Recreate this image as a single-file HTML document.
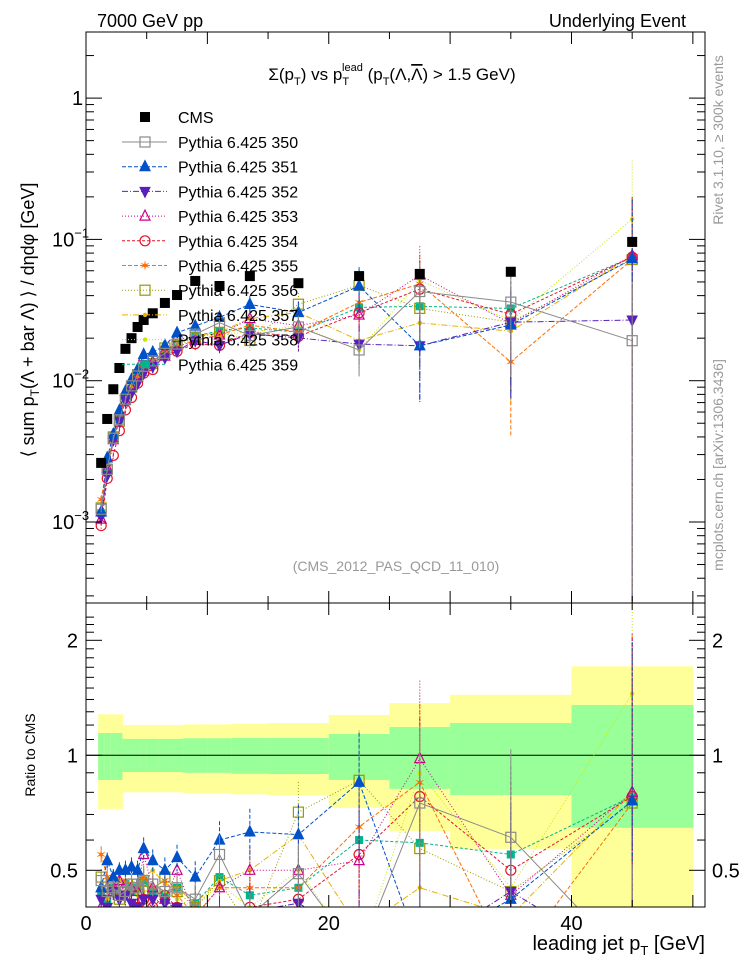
<!DOCTYPE html>
<html><head><meta charset="utf-8">
<style>
html,body{margin:0;padding:0;background:#fff;width:746px;height:972px;overflow:hidden;}
svg{display:block;font-family:"Liberation Sans",Arial,sans-serif;overflow:hidden;}
</style></head>
<body>
<svg id="chart" width="746" height="972" viewBox="0 0 746 972" xmlns="http://www.w3.org/2000/svg">
<defs>
<clipPath id="clipMain"><rect x="86" y="32" width="619" height="571"/></clipPath>
<clipPath id="clipRatio"><rect x="86" y="603" width="619" height="304"/></clipPath>
</defs>
<g id="bands" clip-path="url(#clipRatio)"></g>
<g id="ratioSeries" clip-path="url(#clipRatio)"></g>
<g id="mainSeries" clip-path="url(#clipMain)"></g>
<g id="axes"></g>
<g id="legend"></g>

<text x="97" y="27" font-size="18">7000 GeV pp</text>
<text x="686" y="27" font-size="18" text-anchor="end">Underlying Event</text>
<text x="392" y="80" font-size="17" text-anchor="middle">Σ(p<tspan font-size="11" dy="5">T</tspan><tspan dy="-5">) vs p</tspan><tspan font-size="11" dy="5">T</tspan><tspan font-size="11" dx="-7" dy="-14">lead</tspan><tspan dy="9"> (p</tspan><tspan font-size="11" dy="5">T</tspan><tspan dy="-5">(Λ,</tspan><tspan text-decoration="overline">Λ</tspan><tspan>) &gt; 1.5 GeV)</tspan></text>
<text x="396" y="571" font-size="14" fill="#999" text-anchor="middle">(CMS_2012_PAS_QCD_11_010)</text>
<text transform="translate(34,320) rotate(-90)" font-size="18" text-anchor="middle">⟨ sum p<tspan font-size="12" dy="5">T</tspan><tspan dy="-5">(Λ + bar Λ) ⟩ / dηdφ [GeV]</tspan></text>
<text transform="translate(35,755) rotate(-90)" font-size="14" text-anchor="middle">Ratio to CMS</text>
<text transform="translate(723,140) rotate(-90)" font-size="14" fill="#999" text-anchor="middle">Rivet 3.1.10, ≥ 300k events</text>
<text transform="translate(723,465) rotate(-90)" font-size="14" fill="#999" text-anchor="middle">mcplots.cern.ch [arXiv:1306.3436]</text>
<text x="705" y="950" font-size="20" text-anchor="end">leading jet p<tspan font-size="13" dy="5">T</tspan><tspan dy="-5"> [GeV]</tspan></text>
</svg>
<script>
const xCenters=[1.25,1.75,2.25,2.75,3.25,3.75,4.25,4.75,5.5,6.5,7.5,9,11,13.5,17.5,22.5,27.5,35,45];
const xLow=[1,1.5,2,2.5,3,3.5,4,4.5,5,6,7,8,10,12,15,20,25,30,40];
const xHigh=[1.5,2,2.5,3,3.5,4,4.5,5,6,7,8,10,12,15,20,25,30,40,50];
const cmsValues=[2.62e-3,5.36e-3,8.7e-3,1.23e-2,1.68e-2,2.0e-2,2.4e-2,2.69e-2,3.0e-2,3.55e-2,4.04e-2,5.08e-2,4.68e-2,5.5e-2,4.9e-2,5.5e-2,5.7e-2,5.9e-2,9.6e-2];
const bandStatUp=[1.144,1.144,1.144,1.144,1.104,1.104,1.104,1.104,1.104,1.104,1.104,1.108,1.108,1.11,1.11,1.137,1.186,1.215,1.354];
const bandStatDn=[0.862,0.862,0.862,0.862,0.904,0.904,0.904,0.904,0.904,0.904,0.904,0.90,0.90,0.895,0.893,0.862,0.817,0.787,0.646];
const bandTotUp=[1.28,1.28,1.28,1.28,1.20,1.20,1.20,1.20,1.20,1.20,1.20,1.205,1.205,1.21,1.215,1.275,1.37,1.44,1.71];
const bandTotDn=[0.724,0.724,0.724,0.724,0.80,0.80,0.80,0.80,0.80,0.80,0.80,0.795,0.795,0.79,0.785,0.728,0.634,0.569,0.3];
const mcErr=[0.05,0.05,0.05,0.05,0.06,0.06,0.06,0.07,0.07,0.08,0.08,0.1,0.12,0.15,0.2,0.35,0.6,0.7,1.6];
const seriesNames=["Pythia 6.425 350","Pythia 6.425 351","Pythia 6.425 352","Pythia 6.425 353","Pythia 6.425 354","Pythia 6.425 355","Pythia 6.425 356","Pythia 6.425 357","Pythia 6.425 358","Pythia 6.425 359"];
const ratio350=[0.47,0.44,0.45,0.43,0.44,0.46,0.45,0.47,0.46,0.44,0.45,0.42,0.55,0.38,0.49,0.30,0.75,0.61,0.20];
const ratio351=[0.45,0.53,0.48,0.50,0.50,0.51,0.50,0.57,0.53,0.50,0.54,0.48,0.60,0.63,0.62,0.85,0.31,0.42,0.76];
const ratio352=[0.42,0.40,0.44,0.42,0.43,0.41,0.40,0.42,0.42,0.41,0.40,0.38,0.38,0.39,0.41,0.33,0.31,0.44,0.28];
const ratio353=[0.40,0.45,0.44,0.47,0.43,0.45,0.44,0.55,0.45,0.42,0.50,0.38,0.45,0.50,0.50,0.53,0.98,0.43,0.80];
const ratio354=[0.36,0.38,0.34,0.36,0.37,0.38,0.40,0.42,0.40,0.43,0.40,0.36,0.38,0.40,0.42,0.55,0.78,0.50,0.78];
const ratio355=[0.55,0.48,0.45,0.43,0.47,0.44,0.46,0.48,0.45,0.47,0.43,0.38,0.45,0.45,0.45,0.65,0.85,0.23,0.75];
const ratio356=[0.48,0.44,0.46,0.42,0.44,0.45,0.46,0.44,0.44,0.48,0.44,0.40,0.47,0.35,0.71,0.86,0.57,0.44,0.75];
const ratio357=[0.45,0.42,0.44,0.47,0.46,0.44,0.45,0.48,0.50,0.46,0.45,0.41,0.47,0.50,0.62,0.35,0.45,0.38,0.80];
const ratio358=[0.42,0.44,0.43,0.45,0.44,0.46,0.43,0.44,0.45,0.44,0.42,0.40,0.46,0.40,0.50,0.30,0.90,0.45,1.45];
const ratio359=[0.44,0.42,0.45,0.43,0.46,0.44,0.45,0.47,0.44,0.43,0.45,0.41,0.48,0.43,0.45,0.60,0.59,0.55,0.78];
const xTickVals=[0,20,40];
const mainTickLabels=["1","10","10","10"];
const mainTickExp=["","−1","−2","−3"];
const ratioTickVals=[2,1,0.5];

const ratios=[ratio350,ratio351,ratio352,ratio353,ratio354,ratio355,ratio356,ratio357,ratio358,ratio359];
const styles=[
 {c:"#8a8a8a",dash:"",m:"sq",fill:false},
 {c:"#0050c8",dash:"4,2",m:"tri",fill:true},
 {c:"#5a1ebe",dash:"6,2,1,2",m:"tridn",fill:true},
 {c:"#c8008c",dash:"1,2",m:"tri",fill:false},
 {c:"#e6142d",dash:"3,2",m:"circ",fill:false},
 {c:"#ff6e00",dash:"4,2",m:"star",fill:false},
 {c:"#999900",dash:"1,2",m:"sq",fill:false},
 {c:"#e6b400",dash:"6,2,1,2",m:"dot",fill:true},
 {c:"#c8e600",dash:"1,2",m:"dot",fill:true},
 {c:"#00b48c",dash:"3,2",m:"smsq",fill:true}
];
const NS="http://www.w3.org/2000/svg";
const L=86,R=705,XMAX=51;
function xs(v){return L+v*(R-L)/XMAX;}
function ym(v){return 522-141.3*(Math.log10(v)+3);}
function yr(r){return 755.3-382*Math.log10(r);}
function cl(y,a,b){return Math.max(a,Math.min(b,y));}
function mk(tag,attrs,parent){const e=document.createElementNS(NS,tag);for(const k in attrs)e.setAttribute(k,attrs[k]);parent.appendChild(e);return e;}
function marker(g,st,x,y){
 let e;const f=st.fill?st.c:"none";
 if(st.m==="sq") e=mk("rect",{x:x-5,y:y-5,width:10,height:10,fill:f,stroke:st.c,"stroke-width":1.2},g);
 else if(st.m==="smsq") e=mk("rect",{x:x-3.5,y:y-3.5,width:7,height:7,fill:f,stroke:st.c},g);
 else if(st.m==="tri") e=mk("polygon",{points:`${x},${y-6} ${x-5},${y+4} ${x+5},${y+4}`,fill:f,stroke:st.c,"stroke-width":1.2},g);
 else if(st.m==="tridn") e=mk("polygon",{points:`${x},${y+6} ${x-5},${y-4} ${x+5},${y-4}`,fill:f,stroke:st.c},g);
 else if(st.m==="circ") e=mk("circle",{cx:x,cy:y,r:5,fill:"none",stroke:st.c,"stroke-width":1.2},g);
 else if(st.m==="star") e=mk("text",{x:x,y:y+5,"font-size":14,"text-anchor":"middle",fill:st.c},g);
 else e=mk("circle",{cx:x,cy:y,r:2.2,fill:st.c},g);
 if(st.m==="star") e.textContent="✶";
 return e;
}
const bands=document.getElementById("bands");
for(let i=0;i<xCenters.length;i++){
 const yt=cl(yr(bandTotUp[i]),603,907),yb=cl(yr(bandTotDn[i]),603,907);
 const y1=mk("rect",{x:xs(xLow[i]),y:yt,width:xs(xHigh[i])-xs(xLow[i])+0.5,height:yb-yt,fill:"#ffff99"},bands);
 
 
 const st2=cl(yr(bandStatUp[i]),603,907),sb2=cl(yr(bandStatDn[i]),603,907);
 const g1=mk("rect",{x:xs(xLow[i]),y:st2,width:xs(xHigh[i])-xs(xLow[i])+0.5,height:sb2-st2,fill:"#99ff99"},bands);
 
 
}
const one=mk("line",{x1:L,x2:R,y1:yr(1),y2:yr(1),stroke:"#000"},bands);


const mainG=document.getElementById("mainSeries"),ratG=document.getElementById("ratioSeries");
for(let s=ratios.length-1;s>=0;s--){
 const st=styles[s];
 const vals=ratios[s].map((r,i)=>r*cmsValues[i]);
 const pm=vals.map((v,i)=>xs(xCenters[i])+","+ym(v)).join(" ");
 const lm=mk("polyline",{points:pm,fill:"none",stroke:st.c,"stroke-dasharray":st.dash,"stroke-width":1},mainG);
 
 
 const pr=ratios[s].map((r,i)=>xs(xCenters[i])+","+cl(yr(r),600,965)).join(" ");
 const lr=mk("polyline",{points:pr,fill:"none",stroke:st.c,"stroke-dasharray":st.dash,"stroke-width":1},ratG);
 
 
 for(let i=0;i<xCenters.length;i++){
  const x=xs(xCenters[i]);
  const e=mcErr[i];
  const eb=mk("line",{x1:x,x2:x,y1:cl(ym(vals[i]*(1+e)),32,603),y2:cl(ym(Math.max(vals[i]*(1-e),1e-5)),32,603),stroke:st.c,"stroke-dasharray":st.dash},mainG);
  
  
  const m=marker(mainG,st,x,ym(vals[i]));
  
  
  const ebr=mk("line",{x1:x,x2:x,y1:cl(yr(ratios[s][i]*(1+e)),603,907),y2:cl(yr(Math.max(ratios[s][i]*(1-e),0.01)),603,907),stroke:st.c,"stroke-dasharray":st.dash},ratG);
  
  
  const mr=marker(ratG,st,x,cl(yr(ratios[s][i]),590,930));
  
  
 }
}
for(let i=0;i<xCenters.length;i++){
 const c=mk("rect",{x:xs(xCenters[i])-5,y:ym(cmsValues[i])-5,width:10,height:10,fill:"#000"},mainG);
 
 
}
const ax=document.getElementById("axes");
const fr1=mk("rect",{x:L,y:32,width:R-L,height:571,fill:"none",stroke:"#000"},ax);


const fr2=mk("rect",{x:L,y:603,width:R-L,height:304,fill:"none",stroke:"#000"},ax);


for(let v=0;v<=50;v+=5){
 const x=xs(v),len=(v%10===0)?12:7;
 for(const [y0,d] of [[32,1],[603,-1],[603,1],[907,-1]]){
  const t=mk("line",{x1:x,x2:x,y1:y0,y2:y0+d*len,stroke:"#000"},ax);
  
  
 }
}
xTickVals.forEach(v=>{
 const t=mk("text",{x:xs(v),y:930,"font-size":20,"text-anchor":"middle"},ax);
 t.textContent=String(v);
 
 
});
for(let d=-4;d<=0;d++){
 for(let k=1;k<10;k++){
  const v=k*Math.pow(10,d);const y=ym(v);
  if(y<32||y>603)continue;
  const len=k===1?16:8;
  for(const [x0,dd] of [[L,1],[R,-1]]){
   const t=mk("line",{x1:x0,x2:x0+dd*len,y1:y,y2:y,stroke:"#000"},ax);
   
   
  }
 }
}
mainTickLabels.forEach((lab,i)=>{
 const t=mk("text",{x:mainTickExp[i]?52:72,y:ym(Math.pow(10,-i))+7,"font-size":20},ax);
 t.textContent=lab;
 if(mainTickExp[i]){const sp=mk("tspan",{"font-size":13,dy:-9},t);sp.textContent=mainTickExp[i];}
 
 
});
[0.4,0.5,0.6,0.7,0.8,0.9,1,1.1,1.2,1.3,1.4,1.5,1.6,1.7,1.8,1.9,2,2.1,2.2,2.3].forEach(v=>{
 const y=yr(v);if(y<603||y>907)return;
 const major=(v===0.5||v===1||v===2);
 for(const [x0,dd] of [[L,1],[R,-1]]){
  const t=mk("line",{x1:x0,x2:x0+dd*(major?16:8),y1:y,y2:y,stroke:"#000"},ax);
  
  
 }
});
ratioTickVals.forEach(v=>{
 for(const [x,anc] of [[78,"end"],[712,"start"]]){
  const t=mk("text",{x:x,y:yr(v)+7,"font-size":20,"text-anchor":anc},ax);
  t.textContent=String(v);
  
  
 }
});
const lg=document.getElementById("legend");
const cm=mk("rect",{x:140,y:112,width:10,height:10,fill:"#000"},lg);


const ct=mk("text",{x:178,y:123,"font-size":16},lg);
ct.textContent="CMS";


seriesNames.forEach((n,s)=>{
 const y=142+s*24.7;const st=styles[s];
 const ln=mk("line",{x1:122,x2:167,y1:y,y2:y,stroke:st.c,"stroke-dasharray":st.dash},lg);
 
 
 const m=marker(lg,st,145,y);
 
 
 const t=mk("text",{x:178,y:y+6,"font-size":16},lg);
 t.textContent=n;
 
 
});
</script>
</body></html>
